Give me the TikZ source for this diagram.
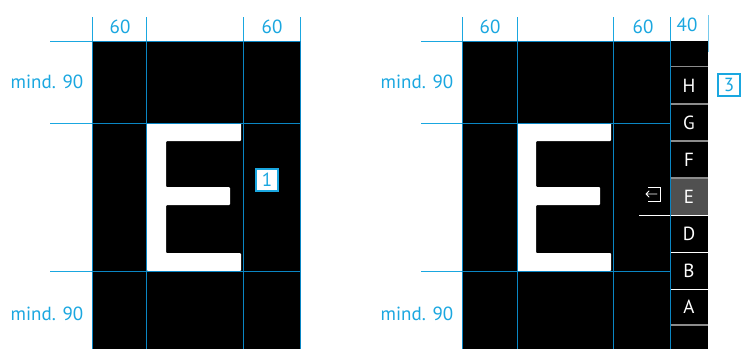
\documentclass[tikz,border=0pt]{standalone}
\usepackage{fontspec}
\setmainfont{PT Sans}
\definecolor{cb}{HTML}{1AA7E0}
\definecolor{cbd}{HTML}{0A86C4}
\definecolor{sepg}{HTML}{8C8C8C}
\definecolor{selg}{HTML}{505050}
\tikzset{
  x=1pt,y=-1pt,
  guide/.style={draw=cb,line width=1pt},
  guided/.style={draw=cbd,line width=1pt},
  dim/.style={text=cb,font=\fontsize{19}{19}\selectfont,inner sep=0pt},
  mindl/.style={text=cb,font=\fontsize{19}{19}\selectfont,inner sep=0pt},
  letter/.style={text=white,font=\fontsize{19}{19}\selectfont,inner sep=0pt},
  tag/.style={draw=cb,line width=2.6pt,fill=white,text=cb,minimum width=22pt,minimum height=22pt,inner sep=0pt,font=\fontsize{19}{19}\selectfont},
  bigE/.style={fill=white,rounded corners=1pt},
  sepw/.style={draw=white,line width=1pt},
  sepd/.style={draw=sepg,line width=1.2pt}
}
\begin{document}
\begin{tikzpicture}
\useasboundingbox (0,0) rectangle (747,349);
\fill[white] (0,0) rectangle (747,349);
% left panel
\fill[black] (92,41) rectangle (301,349);
\fill[bigE] (147,123) -- (241,123) -- (241,141) -- (166,141) -- (166,187) -- (230,187) -- (230,205) -- (166,205) -- (166,253) -- (241,253) -- (241,271) -- (147,271) -- cycle;
\foreach \y in {41,123,271} {
  \draw[guide] (50,\y+.5) -- (92,\y+.5);
  \draw[guided] (92,\y+.5) -- (301,\y+.5);
}
\foreach \x in {92.5,146.5,243,300.5} {
  \draw[guide] (\x,17) -- (\x,41);
  \draw[guided] (\x,41) -- (\x,349);
}
\node[dim] (l60a) at (120,27) {60};
\node[dim] (l60b) at (272,27) {60};
\node[mindl] (lm1) at (47,82) {mind. 90};
\node[mindl] (lm2) at (47,314) {mind. 90};
\node[tag] (t1) at (267,180) {1};
% right panel
\fill[black] (462,41) rectangle (708,349);
\fill[bigE] (517,123) -- (611,123) -- (611,141) -- (536,141) -- (536,187) -- (600,187) -- (600,205) -- (536,205) -- (536,253) -- (611,253) -- (611,271) -- (517,271) -- cycle;
\fill[selg] (671,178) rectangle (708,215);
\foreach \y in {66.5,104,141,178,325} \draw[sepd] (671,\y) -- (708,\y);
\draw[sepw] (639,215) -- (708,215);
\foreach \y in {252.5,289.5} \draw[sepw] (671,\y) -- (708,\y);
\foreach \y in {41,123,271} {
  \draw[guide] (421,\y+.5) -- (462,\y+.5);
  \draw[guided] (462,\y+.5) -- (670.5,\y+.5);
}
\foreach \x in {462.5,517,613,670.5} {
  \draw[guide] (\x,17) -- (\x,41);
  \draw[guided] (\x,41) -- (\x,349);
}
\draw[draw=cb!60,line width=1pt] (708,15) -- (708,52);
\node[dim] (r60a) at (490,27) {60};
\node[dim] (r60b) at (643,27) {60};
\node[dim] (r40) at (687,25) {40};
\node[mindl] (rm1) at (417,82) {mind. 90};
\node[mindl] (rm2) at (417,314) {mind. 90};
\node[tag] (t3) at (729,85) {3};
\foreach \n/\y in {H/86,G/123,F/160,E/197,D/234,B/271,A/307} \node[letter] (let\n) at (689,\y) {\n};
% exit icon
\draw[white,line width=.9pt] (648,187) -- (660,187) -- (660,201) -- (648,201);
\draw[white,line width=.9pt,line cap=round,line join=round] (657,194) -- (646,194) (649,191) -- (646,194) -- (649,197);
\end{tikzpicture}
\end{document}
